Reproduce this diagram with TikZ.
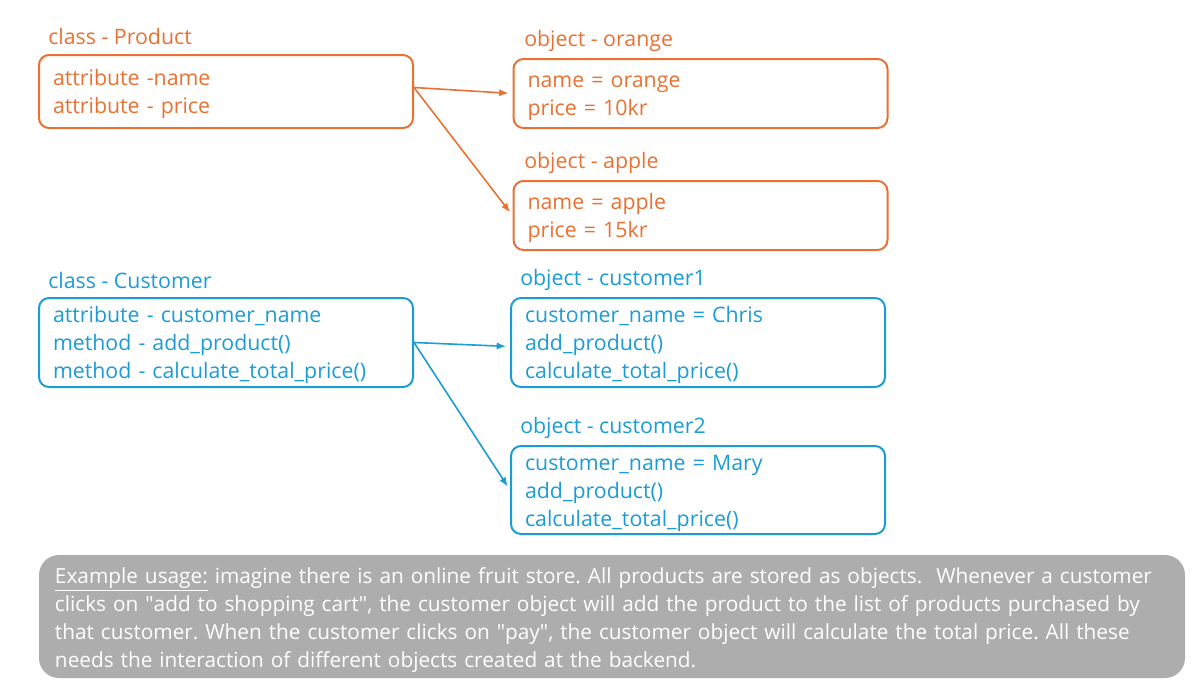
\documentclass[tikz,border=0pt]{standalone}
\usepackage{fontspec}
\setmainfont{Open Sans}
\usetikzlibrary{arrows.meta}

\definecolor{prodorange}{HTML}{E97132}
\definecolor{custblue}{HTML}{1B9CD5}
\definecolor{notegray}{HTML}{ADADAD}

\tikzset{
  boxfont/.style={font=\fontsize{16}{21}\selectfont},
  textdown/.style={execute at begin node={\rule{0pt}{#1}}},
  classbox/.style={boxfont, draw, line width=1.5pt, rounded corners=7.5pt,
    minimum width=280.5pt, text width=259.5pt, inner xsep=10.5pt, inner ysep=1pt,
    align=left, textdown=16pt},
  objbox/.style={classbox},
  boxtitle/.style={boxfont, anchor=west, inner sep=0pt},
  linkarrow/.style={line width=1.2pt, -{Latex[length=7pt,width=5.5pt]}, shorten >=3pt}
}

\begin{document}
\frenchspacing
\begin{tikzpicture}[x=0.75pt,y=-0.75pt]
  \useasboundingbox (0,0) rectangle (1204,682);

  % Klasse Product und ihre Objekte
  \node[classbox, prodorange, minimum height=54.75pt] (product) at (226,91.5)
    {attribute -name\\attribute - price};
  \node[boxtitle, prodorange] (productTitle) at (48,36) {class - Product};

  \node[objbox, prodorange, minimum height=51.75pt] (orange) at (700.5,93.5)
    {name = orange\\price = 10kr};
  \node[boxtitle, prodorange] (orangeTitle) at (524,41) {object - orange};

  \node[objbox, prodorange, minimum height=51.75pt] (apple) at (700.5,215.5)
    {name = apple\\price = 15kr};
  \node[boxtitle, prodorange] (appleTitle) at (524,163) {object - apple};

  \draw[linkarrow, prodorange] ([yshift=3pt]product.east) -- (orange.west);
  \draw[linkarrow, prodorange] ([yshift=3pt]product.east) -- (apple.west);

  % Klasse Customer und ihre Objekte
  \node[classbox, custblue, minimum height=66.75pt] (customer) at (226,342.5)
    {attribute - customer\_name\\method - add\_product()\\method - calculate\_total\_price()};
  \node[boxtitle, custblue] (customerTitle) at (48,280) {class - Customer};

  \node[objbox, custblue, minimum height=66.75pt] (customerA) at (698,342.5)
    {customer\_name = Chris\\add\_product()\\calculate\_total\_price()};
  \node[boxtitle, custblue] (customerATitle) at (520,280) {object - customer1};

  \node[objbox, custblue, minimum height=66pt] (customerB) at (698,490)
    {customer\_name = Mary\\add\_product()\\calculate\_total\_price()};
  \node[boxtitle, custblue] (customerBTitle) at (520,428) {object - customer2};

  \draw[linkarrow, custblue] (customer.east) -- ([yshift=-3pt]customerA.west);
  \draw[linkarrow, custblue] (customer.east) -- (customerB.west);

  % Beispiel
  \node[font=\fontsize{15.6}{21}\selectfont, fill=notegray, text=white, rounded corners=15pt,
    minimum width=859.5pt, minimum height=92.25pt, text width=835.5pt,
    inner xsep=12pt, inner ysep=1pt, align=left, textdown=17.5pt] (usage) at (612,616.5)
    {\underline{Example usage:} imagine there is an online fruit store. All products are stored as objects.\ \ Whenever a customer\\
     clicks on \textquotedbl add to shopping cart\textquotedbl, the customer object will add the product to the list of products purchased by\\
     that customer. When the customer clicks on \textquotedbl pay\textquotedbl, the customer object will calculate the total price. All these\\
     needs the interaction of different objects created at the backend.};
\end{tikzpicture}
\end{document}
